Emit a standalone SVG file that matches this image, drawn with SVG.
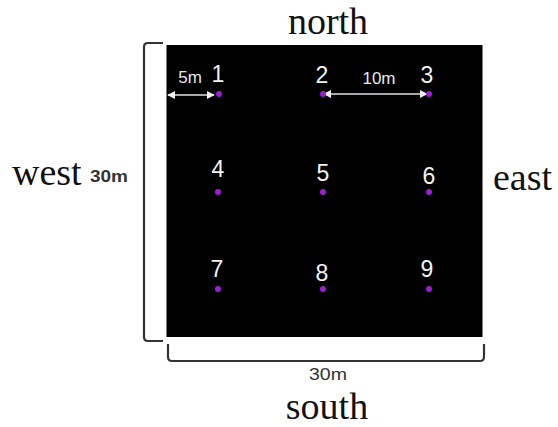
<svg xmlns="http://www.w3.org/2000/svg" width="558" height="427" viewBox="0 0 558 427">
<style>
.dir{font-family:"Liberation Serif",serif;font-size:38px;fill:#111}
.num{font-family:"Liberation Sans",Arial,sans-serif;font-size:23px;fill:#f2f2f2;text-anchor:middle}
.dim{font-family:"Liberation Sans",Arial,sans-serif;font-size:17px;fill:#e8e8e8;text-anchor:middle}
.dimk{font-family:"Liberation Sans",Arial,sans-serif;font-size:17px;fill:#333;text-anchor:middle}
.br{fill:none;stroke:#333;stroke-width:2.2;stroke-linejoin:round}
.dot{fill:#9b1fd1}
.arr{stroke:#e0e0e0;stroke-width:1.6}
</style>
<defs>
<marker id="ah" viewBox="0 0 10 10" refX="9" refY="5" markerWidth="5" markerHeight="5" orient="auto-start-reverse">
<path d="M0,0 L10,5 L0,10 z" fill="#f0f0f0"/>
</marker>
</defs>
<rect x="0" y="0" width="558" height="427" fill="#fff"/>
<g id="field">
<rect x="166.5" y="45" width="316" height="292" fill="#000"/>
</g>
<g id="brackets">
<path class="br" d="M163,43 L148,43 Q144,43 144,47 L144,337 Q144,341 148,341 L163,341"/>
<path class="br" d="M168,344 L168,357 Q168,361 172,361 L480,361 Q484,361 484,357 L484,344"/>
</g>
<g id="labels">
<text class="dir" x="328" y="34" text-anchor="middle">north</text>
<text class="dir" x="327" y="419" text-anchor="middle" font-size="36">south</text>
<text class="dir" x="12" y="185">west</text>
<text class="dir" x="493" y="190">east</text>
<text class="dimk" x="109" y="182" font-weight="bold" font-size="16" fill="#444" textLength="38" lengthAdjust="spacingAndGlyphs">30m</text>
<text class="dimk" x="328" y="380" font-size="16" textLength="38" lengthAdjust="spacingAndGlyphs">30m</text>
</g>
<g id="connectors">
<line class="arr" x1="168" y1="95" x2="214" y2="95" marker-start="url(#ah)" marker-end="url(#ah)"/>
<line class="arr" x1="324" y1="94" x2="427" y2="94" marker-start="url(#ah)" marker-end="url(#ah)"/>
<text class="dim" x="190" y="83">5m</text>
<text class="dim" x="379" y="84">10m</text>
</g>
<g id="p1"><text class="num" x="218" y="82">1</text><circle class="dot" cx="219" cy="94" r="3"/></g>
<g id="p2"><text class="num" x="322" y="83">2</text><circle class="dot" cx="323" cy="94" r="3"/></g>
<g id="p3"><text class="num" x="427" y="83">3</text><circle class="dot" cx="429" cy="94" r="3"/></g>
<g id="p4"><text class="num" x="218" y="177">4</text><circle class="dot" cx="218" cy="192" r="3"/></g>
<g id="p5"><text class="num" x="323" y="181">5</text><circle class="dot" cx="323" cy="192" r="3"/></g>
<g id="p6"><text class="num" x="429" y="184">6</text><circle class="dot" cx="429" cy="192" r="3"/></g>
<g id="p7"><text class="num" x="217" y="277">7</text><circle class="dot" cx="218" cy="289" r="3"/></g>
<g id="p8"><text class="num" x="322" y="281">8</text><circle class="dot" cx="323" cy="289" r="3"/></g>
<g id="p9"><text class="num" x="427" y="277">9</text><circle class="dot" cx="429" cy="289" r="3"/></g>
</svg>
